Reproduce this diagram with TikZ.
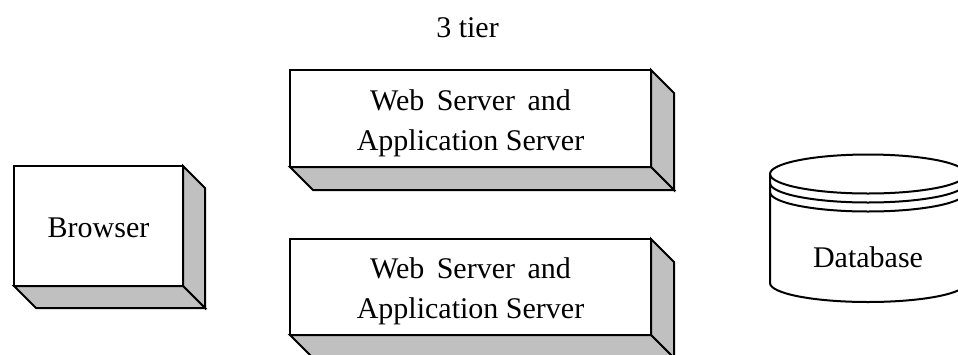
\documentclass[tikz,border=0pt]{standalone}
\usepackage{fontspec}
\setmainfont{Liberation Serif}
\usetikzlibrary{calc}
\definecolor{sidegray}{RGB}{192,192,192}

\tikzset{
  slab/.style={draw, fill=white, line width=2pt, inner sep=0pt, outer sep=0pt},
  face/.style={draw, fill=sidegray, line width=2pt, line join=miter},
  label/.style={font=\fontsize{30}{40}\selectfont, inner sep=0pt, align=center},
  drum/.style={draw, line width=2pt, line join=round},
}

% gray right and bottom faces of a box, offset down-right by #2
\newcommand\slabfaces[2]{%
  \draw[face] (#1.north east) -- ++(#2,#2) -- ($(#1.south east)+(#2,#2)$)
              -- (#1.south east) -- cycle;
  \draw[face] (#1.south west) -- ++(#2,#2) -- ($(#1.south east)+(#2,#2)$)
              -- (#1.south east) -- cycle;
}
\newcommand\serverlabel{Web\ \kern5pt Server\ \kern5pt and\\Application Server}

\begin{document}
\begin{tikzpicture}[x=1pt, y=-1pt]
  \clip (0,0) rectangle (958,354);

  % title
  \node[label, anchor=base] (title) at (467.5,37) {3 tier};

  % client
  \node[slab, minimum width=169, minimum height=120] (browser) at (98.5,226) {};
  \slabfaces{browser}{22}
  \node[label, anchor=base] (browsertext) at (98.5,237) {Browser};

  % middle tier
  \node[slab, minimum width=361, minimum height=97] (srvA) at (470.5,118.5) {};
  \slabfaces{srvA}{23}
  \node[label] (srvAtext) at (470.5,123) {\serverlabel};

  \node[slab, minimum width=361, minimum height=96] (srvB) at (470.5,287) {};
  \slabfaces{srvB}{23}
  \node[label] (srvBtext) at (470.5,291) {\serverlabel};

  % database drum
  \coordinate (dbtop) at (868,174);
  \coordinate (dbbot) at (868,283);
  \draw[drum] (dbtop) ellipse [x radius=98, y radius=19.5];
  \draw[drum] ($(dbtop)+(-98,9)$) arc [start angle=180, end angle=0, x radius=98, y radius=19.5];
  \draw[drum] ($(dbtop)+(-98,18)$) arc [start angle=180, end angle=0, x radius=98, y radius=19.5];
  \draw[drum] ($(dbtop)+(-98,0)$) -- ($(dbbot)+(-98,0)$)
              arc [start angle=180, end angle=0, x radius=98, y radius=19]
              -- ($(dbtop)+(98,0)$);
  \node[label, anchor=base] (db) at (868,267) {Database};
\end{tikzpicture}
\end{document}
